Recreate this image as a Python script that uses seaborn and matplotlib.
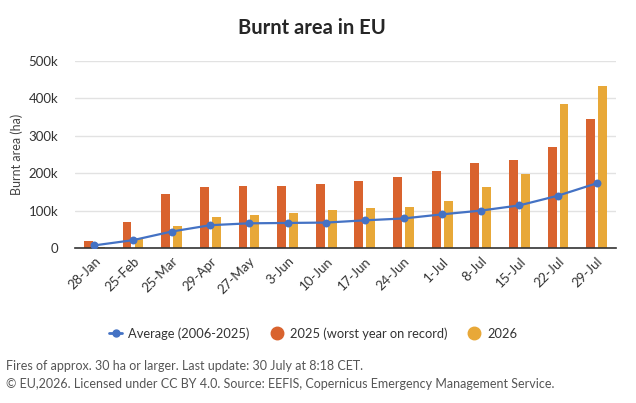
import matplotlib
matplotlib.use("Agg")
import matplotlib.pyplot as plt
from matplotlib.lines import Line2D
from matplotlib.ticker import FuncFormatter
import seaborn as sns
import pandas as pd

dates = ["28-Jan", "25-Feb", "25-Mar", "29-Apr", "27-May", "3-Jun", "10-Jun",
         "17-Jun", "24-Jun", "1-Jul", "8-Jul", "15-Jul", "22-Jul", "29-Jul"]
avg_2006_2025 = [7000, 21000, 44000, 61000, 66000, 67000, 68000,
                 74000, 79000, 90000, 100000, 114000, 140000, 173000]
y2025 = [19000, 70000, 145000, 164000, 166000, 166000, 171000,
         180000, 190000, 206000, 228000, 236000, 270000, 345000]
y2026 = [3000, 27000, 60000, 84000, 89000, 94000, 102000,
         108000, 110000, 126000, 164000, 198000, 385000, 433000]
series_names = ["2025 (worst year on record)", "2026"]
avg_name = "Average (2006-2025)"

c_orange = "#D9632E"
c_yellow = "#E8A838"
c_blue = "#4472C4"

sns.set_theme(style="white")
plt.rcParams["font.family"] = ["Lato", "DejaVu Sans"]

bars = pd.DataFrame({
    "date": dates * 2,
    "value": y2025 + y2026,
    "series": [series_names[0]] * len(dates) + [series_names[1]] * len(dates),
})
avg = pd.DataFrame({"date": dates, "value": avg_2006_2025})

fig = plt.figure(figsize=(6.36, 4.03), dpi=100)
ax = fig.add_axes([0.118, 0.3846, 0.8506, 0.464])

sns.barplot(data=bars, x="date", y="value", hue="series", order=dates,
            hue_order=series_names, palette=[c_orange, c_yellow], saturation=1,
            width=0.62, gap=0.26, dodge=True, ax=ax, legend=False,
            edgecolor="none", linewidth=0, zorder=2)
sns.pointplot(data=avg, x="date", y="value", order=dates, color=c_blue,
              markers="o", markersize=4.5, linewidth=1.6, ax=ax, zorder=3)

ax.set_xlim(-0.5, len(dates) - 0.5)
ax.set_ylim(0, 500000)
ax.set_yticks([0, 100000, 200000, 300000, 400000, 500000])
ax.yaxis.set_major_formatter(FuncFormatter(lambda v, p: "0" if v == 0 else f"{int(v/1000)}k"))
ax.grid(axis="y", color="#e2e2e2", linewidth=1, zorder=0)
ax.set_axisbelow(True)
for s in ["top", "right", "left"]:
    ax.spines[s].set_visible(False)
ax.spines["bottom"].set_color("#333333")
ax.spines["bottom"].set_linewidth(1.2)
ax.tick_params(axis="both", length=0, labelsize=9.5, colors="#333333")
ax.tick_params(axis="y", pad=12)
ax.tick_params(axis="x", pad=5)
ax.set_xlabel("")
ax.set_ylabel("Burnt area (ha)", fontsize=9, color="#444444", labelpad=4)
plt.setp(ax.get_xticklabels(), rotation=45, ha="right", rotation_mode="anchor")

fig.text(0.49, 0.93, "Burnt area in EU", ha="center", va="center",
         fontsize=14.5, fontweight="bold", color="#262626")

handles = [
    Line2D([0], [0], color=c_blue, marker="o", markersize=5, linewidth=2),
    Line2D([0], [0], color=c_orange, marker="o", markersize=9, linestyle="none"),
    Line2D([0], [0], color=c_yellow, marker="o", markersize=9, linestyle="none"),
]
fig.legend(handles, [avg_name] + series_names, loc="center", ncol=3,
           bbox_to_anchor=(0.492, 0.172), frameon=False, fontsize=9.3,
           handlelength=1.05, columnspacing=1.6, handletextpad=0.45,
           labelcolor="#333333")

fig.text(0.009, 0.092, "Fires of approx. 30 ha or larger. Last update: 30 July at 8:18 CET.",
         fontsize=9, color="#555555", va="center")
fig.text(0.009, 0.048, "© EU,2026. Licensed under CC BY 4.0. Source: EEFIS, Copernicus Emergency Management Service.",
         fontsize=9, color="#555555", va="center")

fig.savefig("out.png", dpi=100)
